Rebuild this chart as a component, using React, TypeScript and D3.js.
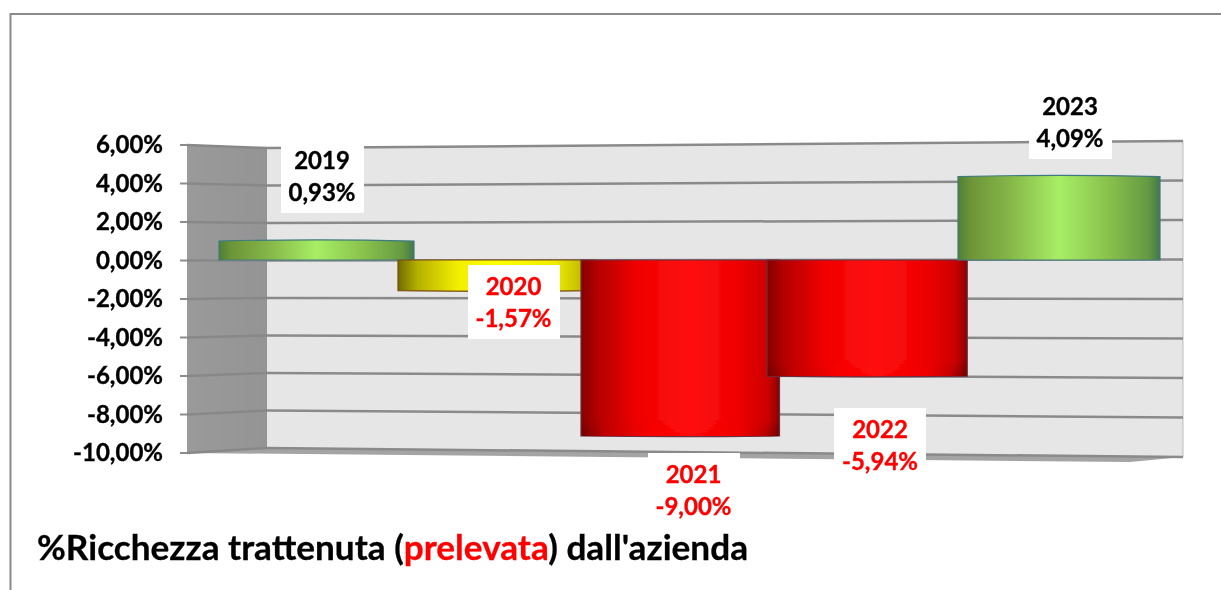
import React from "react";
import * as d3 from "d3";

const years = ["2019", "2020", "2021", "2022", "2023"];
const values = [0.93, -1.57, -9.0, -5.94, 4.09];
const valueLabels = ["0,93%", "-1,57%", "-9,00%", "-5,94%", "4,09%"];
const palettes = ["green", "yellow", "red", "red", "green"];
const labelColors = ["#000000", "#ff0000", "#ff0000", "#ff0000", "#000000"];
const tickValues = [6, 4, 2, 0, -2, -4, -6, -8, -10];
const tickLabels = ["6,00%", "4,00%", "2,00%", "0,00%", "-2,00%", "-4,00%", "-6,00%", "-8,00%", "-10,00%"];

const W = 1221, H = 590;
const FONT = "Lato, Carlito, sans-serif";

// layout
const axisY = d3.scaleLinear().domain([-10, 6]).range([453, 145]);
const backLeft = d3.scaleLinear().domain([-10, 6]).range([448, 148]);
const backRight = d3.scaleLinear().domain([-10, 6]).range([457, 141]);
const barY = d3.scaleLinear().domain([-10, 0, 6]).range([455.5, 260, 137.6]);
const barLeft = d3.scaleLinear().domain([0, 1, 2, 3, 4]).range([219, 398, 581, 767, 958]);
const barWidth = d3.scaleLinear().domain([0, 4]).range([195, 202]);
const line = d3.line<[number, number]>();

const boxes: [number, number, number, number][] = [
  [281, 146, 83, 67],
  [468, 265, 92, 74],
  [648, 453, 92, 72],
  [834, 408, 92, 70],
  [1029, 90, 83, 69],
];
const textCentres = [322, 513.5, 693.5, 880, 1070];
const yearBaselines = [169, 295, 483, 438, 115];
const LINE_GAP = 33;

const gradientStops: Record<string, [number, string][]> = {
  green: [[0, "#4f7f33"], [0.06, "#6c9438"], [0.25, "#84b548"], [0.5, "#a8ee64"], [0.75, "#88c04c"], [0.94, "#659a42"], [1, "#44784a"]],
  yellow: [[0, "#6f6c00"], [0.1, "#b5b000"], [0.3, "#f2ee00"], [0.5, "#ffff00"], [0.8, "#f0ec00"], [1, "#a8a400"]],
  red: [[0, "#860000"], [0.08, "#b20000"], [0.28, "#f00000"], [0.55, "#ff1010"], [0.8, "#ee0000"], [0.94, "#cc0000"], [1, "#8a0008"]],
  cap: [[0, "#700000"], [0.12, "#c00000"], [0.35, "#f80000"], [0.55, "#ff0808"], [0.8, "#f00000"], [0.92, "#c00000"], [1, "#700000"]],
};
const edgeColors: Record<string, string> = { green: "#3f7a80", yellow: "#7a4a10", red: "#6a3040" };

export default function App() {
  return (
    <svg width={W} height={H} viewBox={`0 0 ${W} ${H}`} style={{ position: "fixed", left: 0, top: 0, background: "#fff" }}>
      <defs>
        {Object.entries(gradientStops).map(([k, stops]) => (
          <linearGradient key={k} id={`g-${k}`} x1="0" x2="1" y1="0" y2="0">
            {stops.map(([o, c]) => <stop key={o} offset={o} stopColor={c} />)}
          </linearGradient>
        ))}
        <linearGradient id="wallFade" x1="0" x2="1" y1="0" y2="0">
          <stop offset="0" stopColor="#9a9a9a" />
          <stop offset="1" stopColor="#949494" />
        </linearGradient>
        <linearGradient id="capFade" x1="0" x2="0" y1="0" y2="1">
          <stop offset="0" stopColor="#000" />
          <stop offset="1" stopColor="#fff" />
        </linearGradient>
        <mask id="capMask" maskUnits="objectBoundingBox" maskContentUnits="objectBoundingBox">
          <rect width="1" height="1" fill="url(#capFade)" />
        </mask>
        <filter id="soft" x="0" y="0" width={W} height={H} filterUnits="userSpaceOnUse">
          <feGaussianBlur stdDeviation="0.45" />
        </filter>
      </defs>

      <g filter="url(#soft)">
        <rect width={W} height={H} fill="#fff" />
        {/* outer frame */}
        <path d={`M10.5 ${H + 5}V14H${W + 5}`} fill="none" stroke="#8a8a8a" strokeWidth={2} />

        {/* back wall */}
        <path
          d={`${line([
            [267, backLeft(6)],
            [1183, backRight(6)],
            [1183, backRight(-10)],
            [267, backLeft(-10)],
          ])}Z`}
          fill="#e6e6e6"
        />
        <line x1={1183} x2={1183} y1={backRight(6)} y2={backRight(-10)} stroke="#bdbdbd" strokeWidth={1} />

        {/* left wall */}
        <path
          d={`${line([
            [187, axisY(6)],
            [267, backLeft(6)],
            [267, backLeft(-10)],
            [187, axisY(-10)],
          ])}Z`}
          fill="url(#wallFade)"
        />

        {/* floor */}
        <path
          d={`${line([
            [187, axisY(-10)],
            [267, backLeft(-10)],
            [1183, backRight(-10)],
            [1130, 462],
          ])}Z`}
          fill="#a4a4a4"
        />

        {/* grid lines */}
        {tickValues.map((t) => (
          <g key={t} fill="none">
            <path d={line([[180, axisY(t)], [187, axisY(t)]])!} stroke="#8c8c8c" strokeWidth={2} />
            <path d={line([[187, axisY(t)], [267, backLeft(t)]])!} stroke="#888888" strokeWidth={2.5} />
            <path d={line([[267, backLeft(t)], [1183, backRight(t)]])!} stroke="#8a8a8a" strokeWidth={2.5} />
          </g>
        ))}

        {/* bars */}
        {values.map((v, i) => {
          const x0 = barLeft(i);
          const w = barWidth(i);
          const y0 = barY(0);
          const y1 = barY(v);
          const top = Math.min(y0, y1);
          const bottom = Math.max(y0, y1);
          const p = palettes[i];
          const d = v < 0
            ? `M${x0} ${top}H${x0 + w}V${bottom}Q${x0 + w / 2} ${bottom + 1.5} ${x0} ${bottom}Z`
            : `M${x0} ${top}Q${x0 + w / 2} ${top - 2.5} ${x0 + w} ${top}V${bottom}H${x0}Z`;
          return (
            <g key={years[i]}>
              <path d={d} fill={`url(#g-${p})`} stroke={edgeColors[p]} strokeWidth={1.2} />
              {p === "red" && (
                <rect x={x0 + 0.6} y={bottom - 16} width={w - 1.2} height={16} fill="url(#g-cap)" mask="url(#capMask)" />
              )}
            </g>
          );
        })}

        {/* data labels */}
        {years.map((y, i) => {
          const [bx, by, bw, bh] = boxes[i];
          return (
            <g
              key={y}
              fontFamily={FONT}
              fontWeight={700}
              fontSize={24}
              textAnchor="middle"
              fill={labelColors[i]}
              stroke={labelColors[i]}
              strokeWidth={0.35}
            >
              <rect x={bx} y={by} width={bw} height={bh} fill="#fff" stroke="none" />
              <text x={textCentres[i]} y={yearBaselines[i]}>{y}</text>
              <text x={textCentres[i]} y={yearBaselines[i] + LINE_GAP - 1}>{valueLabels[i]}</text>
            </g>
          );
        })}

        {/* value axis labels */}
        {tickValues.map((t, i) => (
          <text
            key={t}
            x={163}
            y={axisY(t) + 8}
            textAnchor="end"
            fontFamily={FONT}
            fontWeight={700}
            fontSize={24}
            fill="#000"
            stroke="#000"
            strokeWidth={0.35}
          >
            {tickLabels[i]}
          </text>
        ))}

        {/* title */}
        <text
          x={37}
          y={560}
          fontFamily={FONT}
          fontWeight={700}
          fontSize={34}
          fill="#000"
          stroke="#000"
          strokeWidth={0.3}
          textLength={711}
          lengthAdjust="spacingAndGlyphs"
        >
          %Ricchezza trattenuta (<tspan fill="#ff0000" stroke="#ff0000">prelevata</tspan>) dall'azienda
        </text>
      </g>
    </svg>
  );
}
